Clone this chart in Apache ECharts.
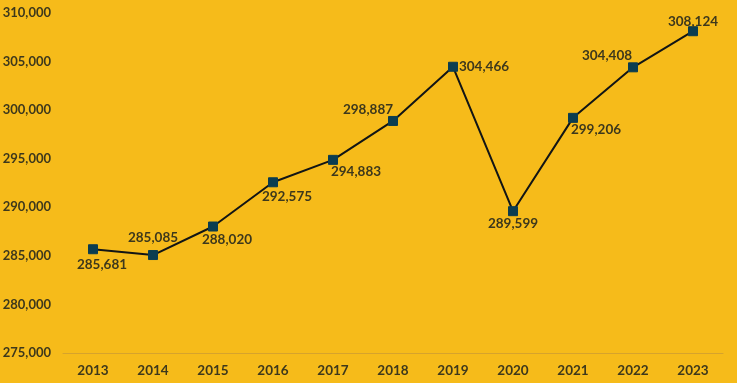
<!DOCTYPE html>
<html>
<head>
<meta charset="utf-8">
<script src="https://cdn.jsdelivr.net/npm/echarts@6/dist/echarts.min.js"></script>
<style>
html,body{margin:0;padding:0;background:#F6BB1A;}
#chart{width:737px;height:383px;}
</style>
</head>
<body>
<div id="chart"></div>
<script>
const years = ['2013','2014','2015','2016','2017','2018','2019','2020','2021','2022','2023'];
const values = [285681, 285085, 288020, 292575, 294883, 298887, 304466, 289599, 299206, 304408, 308124];
const yTicks = [275000, 280000, 285000, 290000, 295000, 300000, 305000, 310000];
const labelOffsets = [[9,15],[0,-17],[14,13],[14,14],[23,12],[-25,-11],[31,0],[0,12],[23,12],[-26,-12],[0,-10]];

const textColor = '#3d381c';
const font = 'Lato, "Open Sans", sans-serif';
const chart = echarts.init(document.getElementById('chart'));
chart.setOption({
  backgroundColor: '#F6BB1A',
  animation: false,
  grid: {left: 63, right: 14, top: 13, bottom: 30, containLabel: false, outerBoundsMode: 'none'},
  xAxis: {
    type: 'category',
    data: years,
    boundaryGap: true,
    axisLine: {show: true, lineStyle: {color: '#D6A32C', width: 1}},
    axisTick: {show: false},
    axisLabel: {color: textColor, fontFamily: font, fontWeight: 'bold', fontSize: 13.5, margin: 11}
  },
  yAxis: {
    type: 'value',
    min: yTicks[0],
    max: yTicks[yTicks.length-1],
    interval: 5000,
    splitLine: {show: false},
    axisLine: {show: false},
    axisTick: {show: false},
    axisLabel: {
      color: textColor, fontFamily: font, fontWeight: 'bold', fontSize: 13, margin: 12,
      formatter: v => v.toLocaleString('en-US')
    }
  },
  series: [{
    type: 'line',
    data: values.map((v, i) => ({
      value: v,
      label: {position: 'inside', offset: labelOffsets[i]}
    })),
    symbol: 'rect',
    symbolSize: 9,
    lineStyle: {color: '#121515', width: 2},
    itemStyle: {color: '#0B3D50', borderColor: '#0B3D50'},
    label: {
      show: true,
      color: textColor, fontFamily: font, fontWeight: 'bold', fontSize: 13.5,
      formatter: p => p.value.toLocaleString('en-US')
    },
    z: 3
  }]
});
</script>
</body>
</html>
